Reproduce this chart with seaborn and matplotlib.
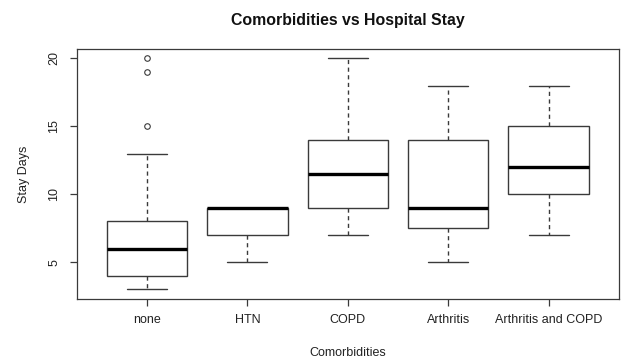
import matplotlib
matplotlib.use("Agg")
import matplotlib.pyplot as plt
import seaborn as sns
import pandas as pd

# Data reconstructed to reproduce the box statistics
categories = ["none", "HTN", "COPD", "Arthritis", "Arthritis and COPD"]
stay_none = [3, 3, 4, 4, 4, 5, 5, 6, 6, 7, 7, 8, 8, 13, 15, 19, 20]
stay_htn = [5, 6, 7, 8, 9, 9, 9, 9, 9]
stay_copd = [7, 8, 9, 9, 11, 12, 14, 14, 17, 20]
stay_arthritis = [5, 6, 7, 9, 9, 9, 14, 14, 16, 18]
stay_arth_copd = [7, 8, 10, 11, 12, 13, 15, 16, 18]
y_ticks = [5, 10, 15, 20]

groups = [stay_none, stay_htn, stay_copd, stay_arthritis, stay_arth_copd]
df = pd.DataFrame({
    "Comorbidities": [c for c, g in zip(categories, groups) for _ in g],
    "Stay Days": [v for g in groups for v in g],
})

edge = "#3a3a3a"
sns.set_style("white", {
    "xtick.bottom": True, "ytick.left": True,
    "xtick.color": edge, "ytick.color": edge,
})
plt.rcParams["font.family"] = ["Liberation Sans", "DejaVu Sans"]
plt.rcParams["xtick.major.size"] = 5
plt.rcParams["ytick.major.size"] = 5
plt.rcParams["xtick.major.width"] = 0.9
plt.rcParams["ytick.major.width"] = 0.9

fig = plt.figure(figsize=(6.22, 3.61), dpi=100)
ax = fig.add_axes([0.1233, 0.1726, 0.995 - 0.1233, 0.864 - 0.1726])

sns.boxplot(
    data=df, x="Comorbidities", y="Stay Days", order=categories, ax=ax,
    color="white", linecolor=edge, linewidth=1.0, width=0.8, whis=1.5,
    medianprops=dict(color="black", linewidth=2.4),
    whiskerprops=dict(color=edge, linewidth=1.0, linestyle=(0, (3, 2.5))),
    capprops=dict(color=edge, linewidth=1.0),
    boxprops=dict(facecolor="white", edgecolor=edge, linewidth=1.0),
    flierprops=dict(marker="o", markersize=4.0, markerfacecolor="none",
                    markeredgecolor=edge, markeredgewidth=0.8),
)

ax.set_xlim(-0.7, 4.7)
ax.set_ylim(2.32, 20.68)
ax.set_yticks(y_ticks)
ax.set_yticklabels([str(t) for t in y_ticks], rotation=90, va="center", fontsize=9)
ax.tick_params(axis="both", which="major", bottom=True, left=True,
               direction="out", length=5, width=0.9, color=edge,
               labelsize=9, labelcolor="#222222")
ax.yaxis.set_tick_params(which="major", left=True, tick1On=True, length=5)
ax.xaxis.set_tick_params(which="major", bottom=True, tick1On=True, length=5)
ax.tick_params(axis="x", pad=6)
ax.tick_params(axis="y", pad=7)
for s in ax.spines.values():
    s.set_visible(True)
    s.set_color(edge)
    s.set_linewidth(0.9)

ax.set_xlabel("Comorbidities", fontsize=9, color="#222222", labelpad=15)
ax.set_ylabel("Stay Days", fontsize=9, color="#222222", labelpad=13)
fig.suptitle("Comorbidities vs Hospital Stay", x=0.559, y=0.965,
             fontsize=11.4, fontweight="bold", color="#111111")

fig.savefig("out.png", dpi=100, facecolor="white")
